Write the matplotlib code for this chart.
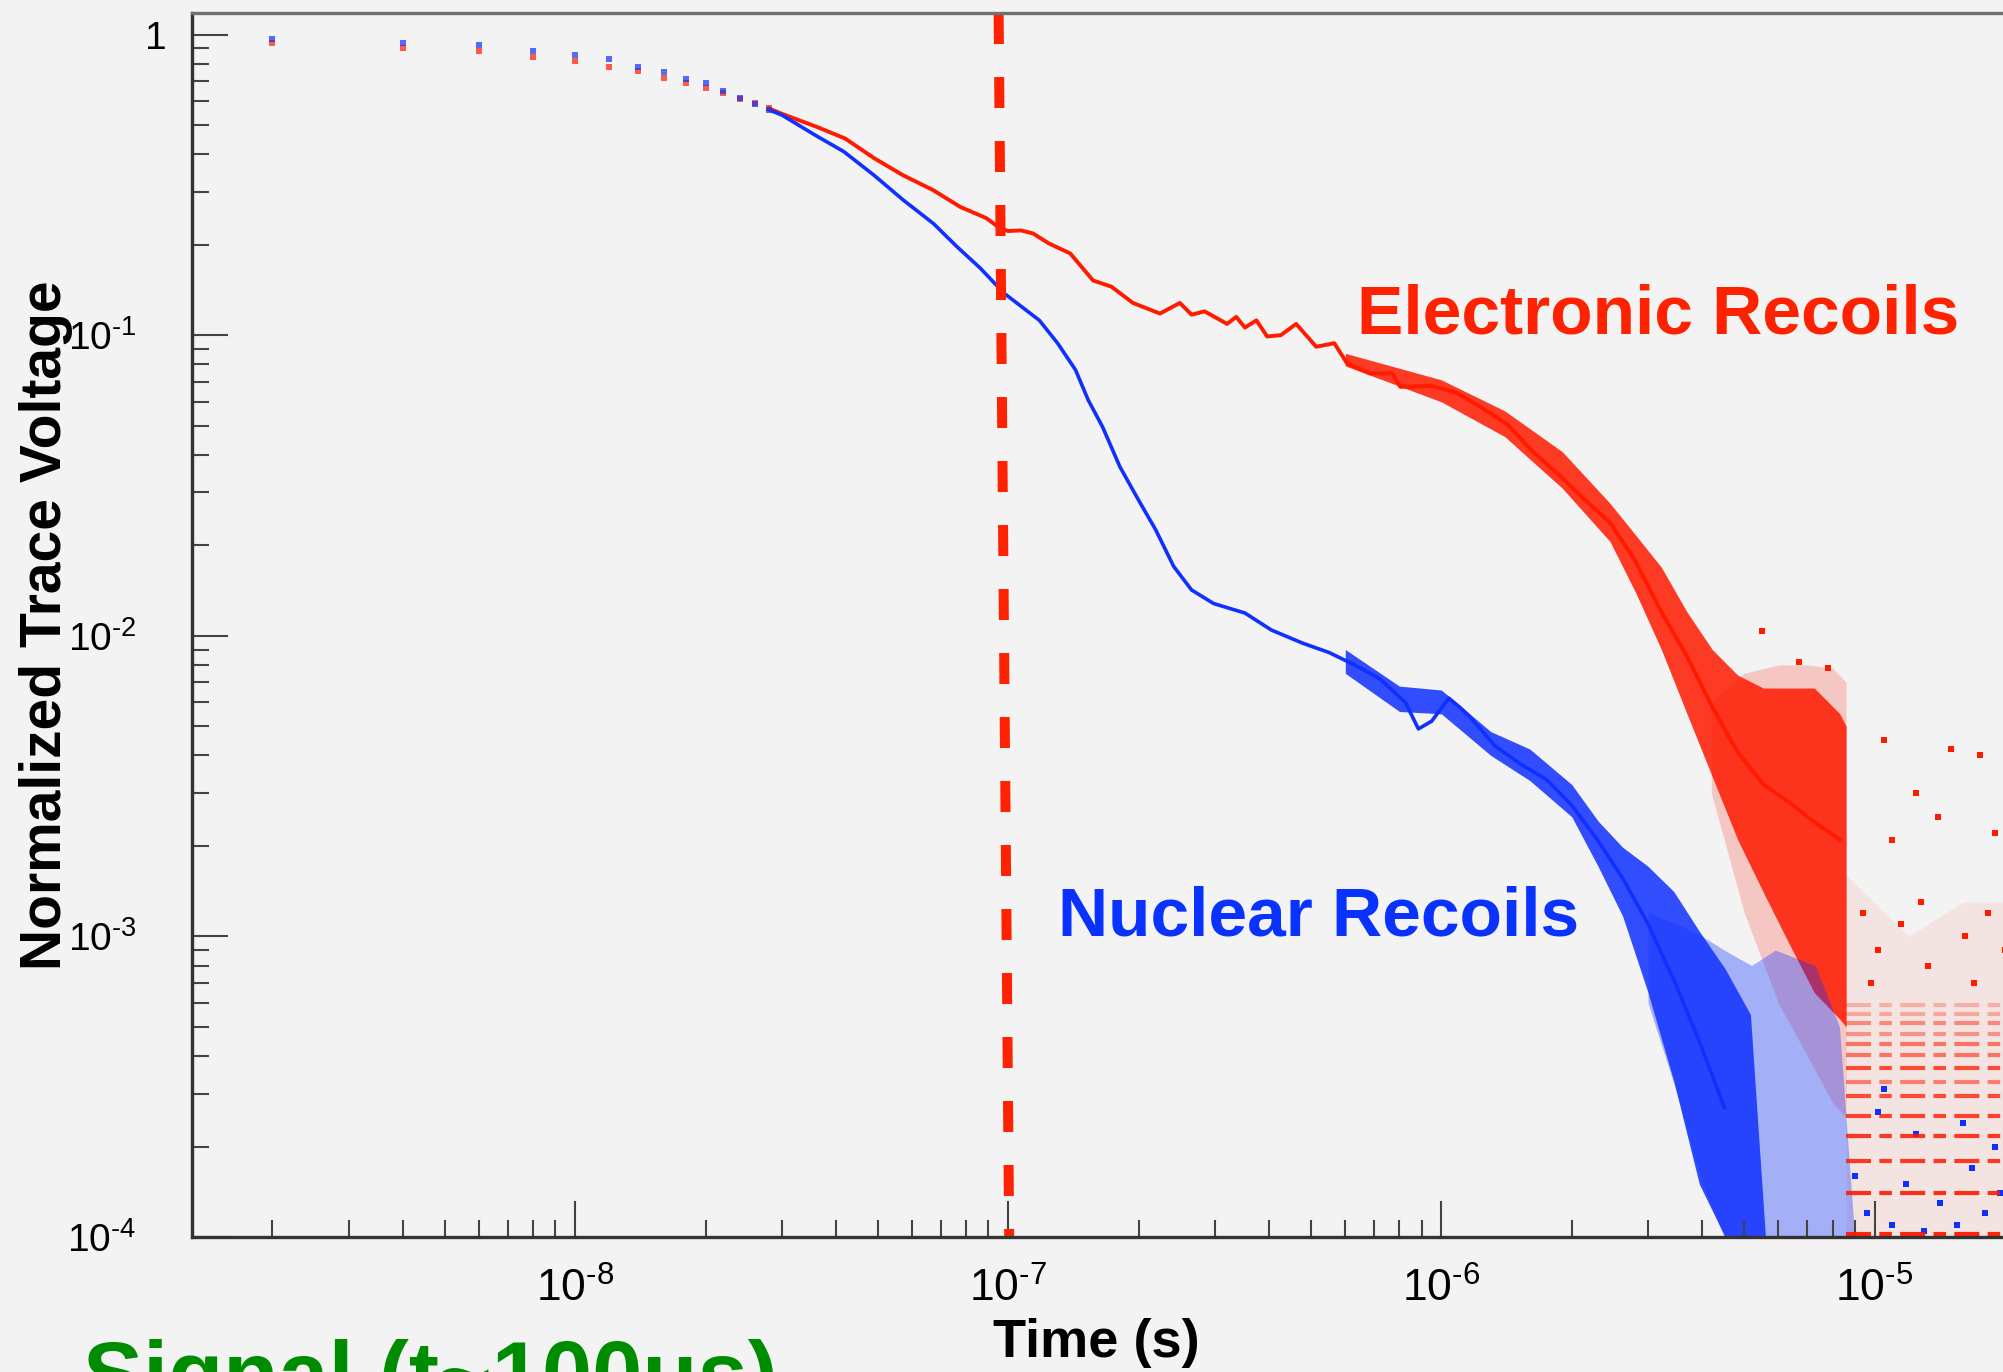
import numpy as np
import matplotlib
matplotlib.use('Agg')
import matplotlib.pyplot as plt
from matplotlib.ticker import FixedLocator, NullFormatter
from matplotlib.transforms import ScaledTranslation

plt.rcParams['font.family'] = ['Liberation Sans', 'DejaVu Sans']
plt.rcParams['mathtext.fontset'] = 'custom'
plt.rcParams['mathtext.rm'] = 'Liberation Sans'

# early samples (2 ns spacing)
t_early = [2e-9, 4e-9, 6e-9, 8e-9, 1.0e-8, 1.2e-8, 1.4e-8, 1.6e-8, 1.8e-8, 2.0e-8, 2.2e-8, 2.4e-8, 2.6e-8, 2.8e-8]
nr_early = [0.964, 0.939, 0.923, 0.883, 0.855, 0.829, 0.782, 0.752, 0.711, 0.690, 0.650, 0.615, 0.588, 0.562]
er_early = [0.939, 0.899, 0.883, 0.844, 0.818, 0.782, 0.758, 0.715, 0.690, 0.662, 0.640, 0.612, 0.592, 0.568]

# electronic recoils main trace
er_t = [2.8e-8, 3.0e-8, 3.6e-8, 4.2e-8, 4.9e-8, 5.7e-8, 6.7e-8, 7.75e-8, 8.9e-8, 9.6e-8, 1.0e-7, 1.07e-7,
        1.14e-7, 1.24e-7, 1.39e-7, 1.57e-7, 1.73e-7, 1.94e-7, 2.24e-7, 2.49e-7, 2.65e-7, 2.84e-7, 3.2e-7,
        3.36e-7, 3.52e-7, 3.74e-7, 3.96e-7, 4.26e-7, 4.62e-7, 5.14e-7, 5.66e-7, 6.06e-7, 6.84e-7, 7.7e-7,
        8.04e-7, 9.5e-7, 1.08e-6, 1.24e-6, 1.42e-6, 1.63e-6, 1.86e-6, 2.14e-6, 2.45e-6, 2.8e-6, 3.22e-6,
        3.69e-6, 4.22e-6, 4.83e-6, 5.54e-6, 6.34e-6, 7.26e-6, 8.32e-6]
er_v = [0.568, 0.545, 0.494, 0.451, 0.388, 0.341, 0.304, 0.267, 0.245, 0.226, 0.222, 0.223,
        0.218, 0.202, 0.187, 0.152, 0.145, 0.128, 0.118, 0.128, 0.117, 0.120, 0.109,
        0.115, 0.106, 0.112, 0.099, 0.100, 0.109, 0.0915, 0.094, 0.0805, 0.0746, 0.0746,
        0.0673, 0.0677, 0.0645, 0.0573, 0.0505, 0.0408, 0.0345, 0.0284, 0.0238, 0.0178, 0.0120,
        0.00855, 0.0058, 0.0041, 0.0032, 0.0028, 0.0024, 0.0021]

# electronic recoils noise band
er_band_t = [6.0e-7, 1.0e-6, 1.4e-6, 1.9e-6, 2.45e-6, 2.81e-6, 3.22e-6, 3.69e-6, 4.22e-6, 4.83e-6, 5.54e-6, 6.34e-6, 7.26e-6, 8.32e-6, 8.6e-6]
er_band_hi = [0.087, 0.071, 0.056, 0.041, 0.0276, 0.0216, 0.0169, 0.0120, 0.0090, 0.0074, 0.0067, 0.0067, 0.0067, 0.0055, 0.0050]
er_band_lo = [0.079, 0.060, 0.046, 0.031, 0.0206, 0.0139, 0.0090, 0.0055, 0.0034, 0.0021, 0.0014, 0.00095, 0.00065, 0.00053, 0.0005]
er_out_t = [4.2e-6, 5.0e-6, 6.0e-6, 7.0e-6, 8.0e-6, 8.6e-6]
er_out_hi = [0.0060, 0.0075, 0.0080, 0.0080, 0.0078, 0.0070]
er_out_lo = [0.0030, 0.0012, 0.0006, 0.0004, 0.00028, 0.00025]

# sparse tail after ~8.6 us (digitiser levels)
tail_t = [8.6e-6, 1.2e-5, 1.6e-5, 2.2e-5]
tail_hi = [0.0016, 0.0010, 0.0013, 0.0013]
er_levels = [1.02e-4, 1.40e-4, 1.79e-4, 2.17e-4, 2.52e-4, 2.94e-4, 3.28e-4, 3.65e-4, 4.03e-4, 4.39e-4, 4.75e-4, 5.15e-4, 5.5e-4, 5.9e-4]
er_level_alpha = [0.95, 0.9, 0.85, 0.85, 0.8, 0.75, 0.5, 0.75, 0.55, 0.55, 0.4, 0.45, 0.3, 0.25]
er_spike_t = [5.5e-6, 6.7e-6, 7.8e-6, 1.05e-5, 1.25e-5, 1.5e-5, 1.75e-5, 1.1e-5, 1.4e-5, 1.9e-5,
              9.4e-6, 1.02e-5, 1.15e-5, 1.33e-5, 1.62e-5, 1.83e-5, 2.0e-5, 9.8e-6, 1.28e-5, 1.7e-5]
er_spike_v = [0.0104, 0.0082, 0.0078, 0.0045, 0.0030, 0.0042, 0.0040, 0.0021, 0.0025, 0.0022,
              0.0012, 0.0009, 0.0011, 0.0008, 0.0010, 0.0012, 0.0009, 0.0007, 0.0013, 0.0007]

# nuclear recoils main trace
nr_t = [2.8e-8, 3.0e-8, 3.58e-8, 4.17e-8, 4.89e-8, 5.73e-8, 6.72e-8, 7.61e-8, 8.62e-8, 9.77e-8, 1.18e-7, 1.30e-7,
        1.43e-7, 1.53e-7, 1.65e-7, 1.81e-7, 1.99e-7, 2.19e-7, 2.41e-7, 2.65e-7, 2.98e-7, 3.52e-7, 4.05e-7,
        4.79e-7, 5.5e-7, 6.3e-7, 7.2e-7, 8.26e-7, 8.85e-7, 9.5e-7, 1.04e-6, 1.1e-6, 1.16e-6, 1.33e-6,
        1.53e-6, 1.75e-6, 2.0e-6, 2.3e-6, 2.63e-6, 3.0e-6, 3.45e-6, 3.96e-6, 4.5e-6]
nr_v = [0.562, 0.540, 0.463, 0.408, 0.341, 0.281, 0.235, 0.197, 0.167, 0.138, 0.112, 0.094,
        0.0766, 0.0608, 0.0496, 0.0365, 0.0286, 0.0225, 0.0170, 0.0142, 0.0128, 0.0119, 0.01045,
        0.00944, 0.0088, 0.0080, 0.0072, 0.0060, 0.0049, 0.0052, 0.0062, 0.0058, 0.0054, 0.0043,
        0.00373, 0.00332, 0.00273, 0.00208, 0.00155, 0.0011, 0.00071, 0.00044, 0.00027]

nr_band_t = [6.0e-7, 8.0e-7, 1.0e-6, 1.3e-6, 1.6e-6, 2.0e-6, 2.3e-6, 2.62e-6, 3.0e-6, 3.44e-6, 3.94e-6, 4.52e-6, 5.17e-6, 5.6e-6]
nr_band_hi = [0.0090, 0.0068, 0.0066, 0.0048, 0.0042, 0.0032, 0.00242, 0.00198, 0.00171, 0.00141, 0.00104, 0.00078, 0.00055, 0.0001]
nr_band_lo = [0.0075, 0.0056, 0.0055, 0.0040, 0.0033, 0.0025, 0.00171, 0.00117, 0.00065, 0.00033, 0.00015, 0.0001, 0.0001, 0.0001]
nr_out_t = [3.0e-6, 3.5e-6, 4.0e-6, 4.5e-6, 5.2e-6, 5.9e-6, 7.3e-6, 8.3e-6, 9.0e-6]
nr_out_hi = [0.0012, 0.0011, 0.0010, 0.0009, 0.0008, 0.0009, 0.0008, 0.0005, 0.0001]
nr_out_lo = [0.0006, 0.0003, 0.00015, 1e-4, 1e-4, 1e-4, 1e-4, 1e-4, 1e-4]
nr_tail_t = [9.0e-6, 9.6e-6, 1.02e-5, 1.1e-5, 1.18e-5, 1.3e-5, 1.42e-5, 1.55e-5, 1.68e-5, 1.8e-5, 1.95e-5, 1.25e-5, 1.6e-5, 1.05e-5, 1.9e-5]
nr_tail_v = [1.6e-4, 1.2e-4, 2.6e-4, 1.1e-4, 1.5e-4, 1.05e-4, 1.3e-4, 1.1e-4, 1.7e-4, 1.2e-4, 1.4e-4, 2.2e-4, 2.4e-4, 3.1e-4, 2.0e-4]

# cut line drawn on the slide
cut_t = [9.5e-8, 1.005e-7]
cut_v = [1.179, 1e-4]

hy = '\u2010'
xticks = [1e-8, 1e-7, 1e-6, 1e-5]
xtick_labels = ['$\\mathregular{10^{' + hy + e + '}}$' for e in ['8', '7', '6', '5']]
yticks = [1e-4, 1e-3, 1e-2, 1e-1, 1]
ytick_labels = ['$\\mathregular{10^{' + hy + e + '}}$' for e in ['4', '3', '2', '1']] + ['1']

red = '#ff1a00'
blue = '#1030ff'
bg = '#f3f3f3'

fig = plt.figure(figsize=(20.03, 13.72), dpi=100, facecolor=bg)
ax = fig.add_axes([0.0959, 0.0984, 0.948, 0.8921], facecolor=bg)
ax.set_xscale('log')
ax.set_yscale('log')
ax.set_xlim(1.305e-9, 3.16e-5)
ax.set_ylim(1e-4, 1.179)

# clouds
ax.fill_between(tail_t, 1e-4, tail_hi, color=red, alpha=0.07, lw=0)
ax.fill_between(er_out_t, er_out_lo, er_out_hi, color=red, alpha=0.2, lw=0)
ax.fill_between(er_band_t, er_band_lo, er_band_hi, color=red, alpha=0.85, lw=0)
for lev, a in zip(er_levels, er_level_alpha):
    ax.hlines(lev, 8.6e-6, 2.2e-5, color=red, alpha=a, lw=3, linestyles=(0, (6, 2, 3, 2)))
ax.scatter(er_spike_t, er_spike_v, s=18, marker='s', color=red, lw=0)
ax.fill_between(nr_out_t, nr_out_lo, nr_out_hi, color=blue, alpha=0.35, lw=0)
ax.fill_between(nr_band_t, nr_band_lo, nr_band_hi, color=blue, alpha=0.85, lw=0)
ax.scatter(nr_tail_t, nr_tail_v, s=18, marker='s', color=blue, lw=0)

# main traces
ax.plot(er_t, er_v, color=red, lw=2.8)
ax.plot(nr_t, nr_v, color=blue, lw=2.6)
ax.plot(t_early, er_early, 's', color=red, ms=4, mew=0, alpha=0.7)
ax.plot(t_early, nr_early, 's', color=blue, ms=4, mew=0, alpha=0.7)

ax.plot(cut_t, cut_v, color='#ff2200', lw=7.2, linestyle=(0, (3.1, 3.3)), clip_on=False)

# ROOT-like axes
ax.xaxis.set_major_locator(FixedLocator(xticks))
ax.set_xticklabels(xtick_labels)
ax.yaxis.set_major_locator(FixedLocator(yticks))
ax.set_yticklabels(ytick_labels)
ax.xaxis.set_minor_formatter(NullFormatter())
ax.yaxis.set_minor_formatter(NullFormatter())
ax.tick_params(which='both', direction='in', top=False, right=False, color='#444444', width=1.5)
ax.tick_params(which='major', length=26)
ax.tick_params(which='minor', length=12)
ax.tick_params(axis='x', which='major', pad=22, labelsize=32)
ax.tick_params(axis='y', which='major', pad=40, labelsize=28)
for s in ['left', 'bottom']:
    ax.spines[s].set_color('#333333')
    ax.spines[s].set_linewidth(2.4)
ax.spines['top'].set_color('#707070')
ax.spines['top'].set_linewidth(2.4)
ax.spines['right'].set_visible(False)

# the "1" label sits closer to the axis in the original
one = ax.yaxis.get_major_ticks()[4].label1
one.set_transform(one.get_transform() + ScaledTranslation(0.30, 0, fig.dpi_scale_trans))

ax.set_xlabel('Time (s)', fontsize=39, fontweight='bold')
ax.set_ylabel('Normalized Trace Voltage', fontsize=41, fontweight='bold')
ax.xaxis.set_label_coords(0.476, -0.066)
ax.yaxis.set_label_coords(-0.0627, 0.5)

fig.text(0.6775, 0.757, 'Electronic Recoils', color='#ff2200', fontsize=50, fontweight='bold', va='baseline')
fig.text(0.528, 0.318, 'Nuclear Recoils', color='#0a32ff', fontsize=50, fontweight='bold', va='baseline')
fig.text(0.0414, -0.024, 'Signal (t~100us)', color='#008c00', fontsize=65, fontweight='bold', va='baseline')

fig.savefig('out.png', dpi=100, facecolor=bg)
